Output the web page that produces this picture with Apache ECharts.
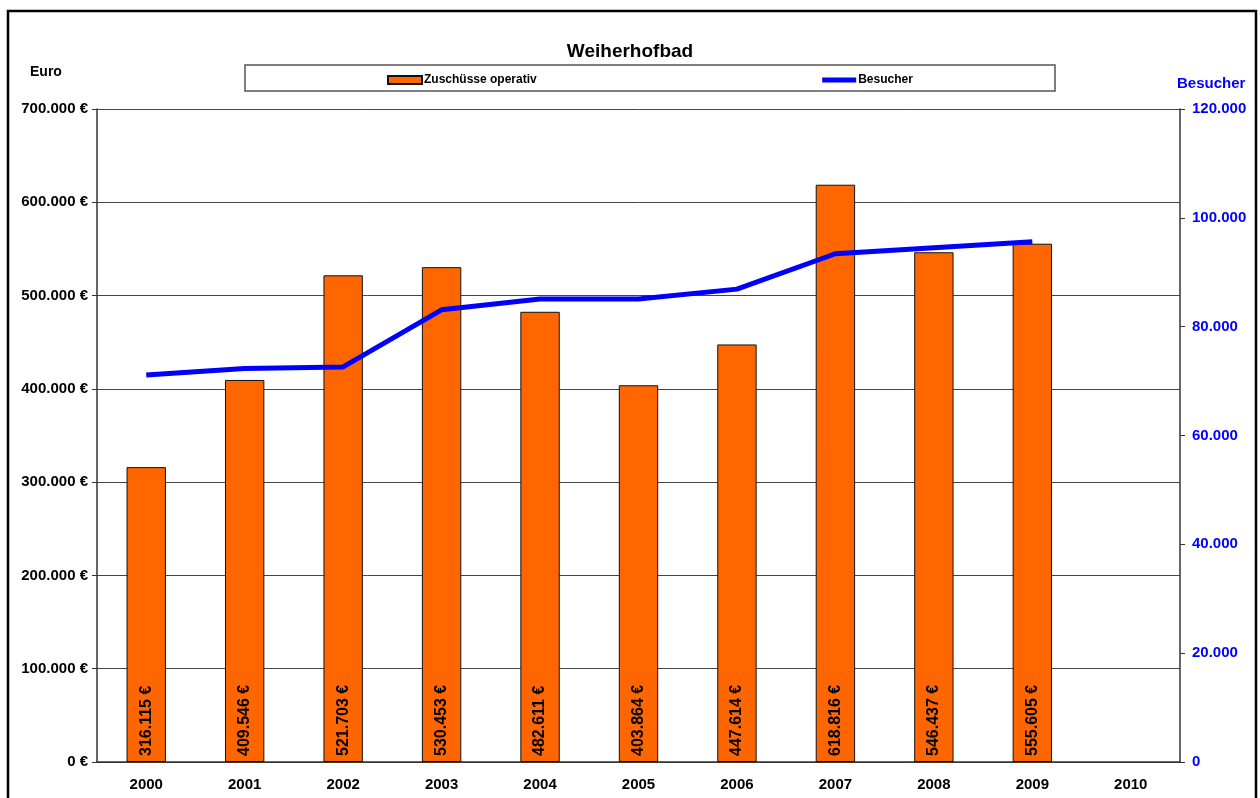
<!DOCTYPE html>
<html>
<head>
<meta charset="utf-8">
<script src="https://cdn.jsdelivr.net/npm/echarts@6/dist/echarts.min.js"></script>
<style>
html, body { margin: 0; padding: 0; background: #fff; }
#chart { width: 1260px; height: 798px; }
</style>
</head>
<body>
<div id="chart"></div>
<script>
// Jahre
var years = ['2000', '2001', '2002', '2003', '2004', '2005', '2006', '2007', '2008', '2009', '2010'];
// Zuschüsse operativ (Euro)
var zuschuesse = [316115, 409546, 521703, 530453, 482611, 403864, 447614, 618816, 546437, 555605, null];
// Besucher (aus dem Bild geschätzt)
var besucher = [71100, 72300, 72600, 83100, 85100, 85100, 86900, 93400, 94500, 95600, null];

var euroTicks = [0, 700000, 100000];
var besucherTicks = [0, 120000, 20000];

function dots(v) {
    return String(Math.round(v)).replace(/\B(?=(\d{3})+(?!\d))/g, '.');
}

var chart = echarts.init(document.getElementById('chart'));

var option = {
    animation: false,
    title: {
        text: 'Weiherhofbad',
        left: 'center',
        top: 37,
        textStyle: { fontFamily: 'Liberation Sans', fontWeight: 'bold', fontSize: 19, color: '#000' }
    },
    legend: {
        left: 387,
        top: 74,
        padding: 0,
        itemGap: 283,
        itemWidth: 34,
        itemHeight: 8,
        textStyle: { fontFamily: 'Liberation Sans', fontWeight: 'bold', fontSize: 12, color: '#000', padding: [0, 0, 0, -3] },
        data: [
            { name: 'Zuschüsse operativ', icon: 'rect' },
            { name: 'Besucher', itemStyle: { opacity: 0 }, lineStyle: { width: 5, color: '#0000ff' } }
        ]
    },
    graphic: [
        { type: 'rect', shape: { x: 8, y: 11, width: 1248, height: 800 }, style: { fill: 'none', stroke: '#000', lineWidth: 2.5 }, z: 100 },
        { type: 'rect', shape: { x: 245, y: 65, width: 810, height: 26 }, style: { fill: 'none', stroke: '#555', lineWidth: 1.5 }, z: 0 },
        { type: 'text', left: 30, top: 65, style: { text: 'Euro', font: 'bold 14px "Liberation Sans"', fill: '#000' } },
        { type: 'text', left: 1177, top: 76, style: { text: 'Besucher', font: 'bold 15px "Liberation Sans"', fill: '#0000ff' } }
    ],
    grid: { left: 97, right: 80, top: 109, bottom: 36 },
    xAxis: {
        type: 'category',
        data: years,
        boundaryGap: true,
        axisLine: { lineStyle: { color: '#333', width: 1.5 } },
        axisTick: { alignWithLabel: false, length: 5, lineStyle: { color: '#333' } },
        axisLabel: { fontFamily: 'Liberation Sans', fontWeight: 'bold', fontSize: 15, color: '#000', margin: 15 }
    },
    yAxis: [
        {
            type: 'value',
            min: euroTicks[0],
            max: euroTicks[1],
            interval: euroTicks[2],
            axisLine: { show: true, lineStyle: { color: '#333', width: 1.5 } },
            axisTick: { show: true, length: 5, lineStyle: { color: '#333' } },
            splitLine: { lineStyle: { color: '#444', width: 1 } },
            axisLabel: {
                fontFamily: 'Liberation Sans', fontWeight: 'bold', fontSize: 15, color: '#000', margin: 9,
                formatter: function (v) { return dots(v) + ' €'; }
            }
        },
        {
            type: 'value',
            min: besucherTicks[0],
            max: besucherTicks[1],
            interval: besucherTicks[2],
            position: 'right',
            axisLine: { show: true, lineStyle: { color: '#333', width: 1.5 } },
            axisTick: { show: true, length: 5, lineStyle: { color: '#333' } },
            splitLine: { show: false },
            axisLabel: {
                fontFamily: 'Liberation Sans', fontWeight: 'bold', fontSize: 15, color: '#0000ff', margin: 12,
                formatter: function (v) { return dots(v); }
            }
        }
    ],
    series: [
        {
            name: 'Zuschüsse operativ',
            type: 'bar',
            data: zuschuesse,
            barWidth: '40%',
            itemStyle: { color: '#ff6600', borderColor: '#111', borderWidth: 1 },
            label: {
                show: true,
                position: 'insideBottom',
                rotate: 90,
                align: 'left',
                verticalAlign: 'middle',
                distance: 6,
                fontFamily: 'Liberation Sans',
                fontWeight: 'bold',
                fontSize: 16,
                color: '#000',
                formatter: function (p) { return dots(p.value) + ' €'; }
            }
        },
        {
            name: 'Besucher',
            type: 'line',
            yAxisIndex: 1,
            data: besucher,
            showSymbol: false,
            symbol: 'none',
            lineStyle: { color: '#0000ff', width: 5 },
            itemStyle: { color: '#0000ff' },
            z: 3
        }
    ]
};

chart.setOption(option);
</script>
</body>
</html>
